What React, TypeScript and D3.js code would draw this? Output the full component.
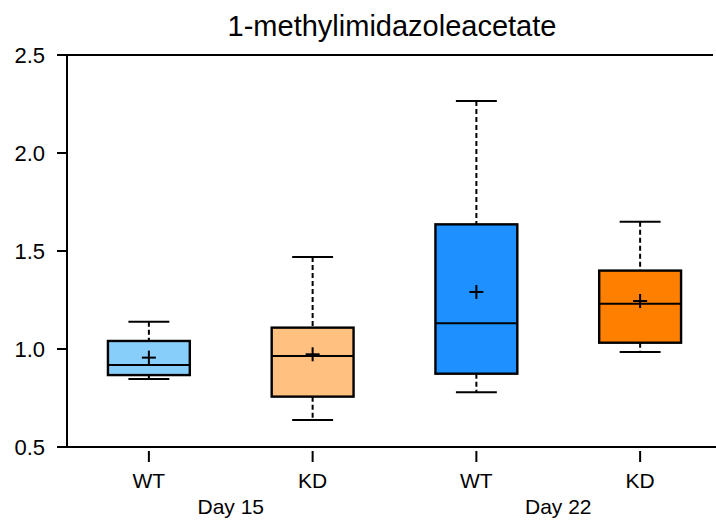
import { useEffect, useRef } from 'react';
import * as d3 from 'd3';

const groups = ['WT', 'KD', 'WT', 'KD'];
const days = ['Day 15', 'Day 22'];
const fills = ['#87CEFA', '#FFC080', '#1E90FF', '#FF8000'];
const whiskerLow = [0.847, 0.638, 0.779, 0.985];
const q1 = [0.867, 0.757, 0.874, 1.032];
const medians = [0.918, 0.964, 1.131, 1.231];
const q3 = [1.041, 1.109, 1.636, 1.4];
const whiskerHigh = [1.139, 1.469, 2.265, 1.649];
const means = [0.956, 0.973, 1.291, 1.245];
const yTicks = [0.5, 1.0, 1.5, 2.0, 2.5];

type Box = { i: number; low: number; q1: number; med: number; q3: number; high: number; mean: number };

export default function App() {
  const svgRef = useRef<SVGSVGElement>(null);

  useEffect(() => {
    if (!svgRef.current) return;
    const svg = d3.select(svgRef.current);
    svg.selectAll('*').remove();

    const width = 716, height = 522;
    const left = 67, right = 713, top = 55, bottom = 447;
    const font = 'Liberation Sans, Arial, sans-serif';

    const data: Box[] = groups.map((_, i) => ({
      i, low: whiskerLow[i], q1: q1[i], med: medians[i], q3: q3[i], high: whiskerHigh[i], mean: means[i]
    }));

    const x = d3.scaleBand<number>().domain(d3.range(groups.length)).range([left, 722]).padding(0);
    const y = d3.scaleLinear().domain([0.5, 2.5]).range([bottom, top]);
    const boxW = x.bandwidth() * 0.5;
    const cx = (i: number) => (x(i) as number) + x.bandwidth() / 2;

    svg.attr('width', width).attr('height', height);

    svg.append('text')
      .attr('x', 392).attr('y', 26)
      .attr('text-anchor', 'middle').attr('dominant-baseline', 'central')
      .style('font-family', font).style('font-size', '29px')
      .text('1-methylimidazoleacetate');

    // frame lines
    svg.append('line').attr('x1', left - 10).attr('x2', right).attr('y1', y(2.5)).attr('y2', y(2.5))
      .attr('stroke', '#000').attr('stroke-width', 2);
    svg.append('line').attr('x1', left - 10).attr('x2', width).attr('y1', y(0.5)).attr('y2', y(0.5))
      .attr('stroke', '#000').attr('stroke-width', 2);
    svg.append('line').attr('x1', left).attr('x2', left).attr('y1', y(2.5)).attr('y2', y(0.5))
      .attr('stroke', '#000').attr('stroke-width', 2);

    const yAxis = svg.append('g');
    yAxis.selectAll('line').data(yTicks).enter().append('line')
      .attr('x1', left - 10).attr('x2', left).attr('y1', d => y(d)).attr('y2', d => y(d))
      .attr('stroke', '#000').attr('stroke-width', 2);
    yAxis.selectAll('text').data(yTicks).enter().append('text')
      .attr('x', left - 22).attr('y', d => y(d))
      .attr('text-anchor', 'end').attr('dominant-baseline', 'central')
      .style('font-family', font).style('font-size', '22px')
      .text(d => d3.format('.1f')(d));

    const xAxis = svg.append('g');
    xAxis.selectAll('line').data(data).enter().append('line')
      .attr('x1', d => cx(d.i)).attr('x2', d => cx(d.i))
      .attr('y1', bottom + 4).attr('y2', bottom + 15)
      .attr('stroke', '#000').attr('stroke-width', 2);
    xAxis.selectAll('text.grp').data(data).enter().append('text')
      .attr('class', 'grp')
      .attr('x', d => cx(d.i)).attr('y', 480)
      .attr('text-anchor', 'middle').attr('dominant-baseline', 'central')
      .style('font-family', font).style('font-size', '21px')
      .text(d => groups[d.i]);
    xAxis.selectAll('text.day').data(days).enter().append('text')
      .attr('class', 'day')
      .attr('x', (_, k) => (cx(k * 2) + cx(k * 2 + 1)) / 2).attr('y', 506)
      .attr('text-anchor', 'middle').attr('dominant-baseline', 'central')
      .style('font-family', font).style('font-size', '21px')
      .text(d => d);

    const g = svg.append('g');
    const box = g.selectAll('g.box').data(data).enter().append('g').attr('class', 'box');

    // whiskers
    box.append('line')
      .attr('x1', d => cx(d.i)).attr('x2', d => cx(d.i))
      .attr('y1', d => y(d.high)).attr('y2', d => y(d.q3))
      .attr('stroke', '#000').attr('stroke-width', 2).attr('stroke-dasharray', '5,3');
    box.append('line')
      .attr('x1', d => cx(d.i)).attr('x2', d => cx(d.i))
      .attr('y1', d => y(d.q1)).attr('y2', d => y(d.low))
      .attr('stroke', '#000').attr('stroke-width', 2).attr('stroke-dasharray', '5,3');
    box.append('line')
      .attr('x1', d => cx(d.i) - boxW / 4).attr('x2', d => cx(d.i) + boxW / 4)
      .attr('y1', d => y(d.high)).attr('y2', d => y(d.high))
      .attr('stroke', '#000').attr('stroke-width', 2);
    box.append('line')
      .attr('x1', d => cx(d.i) - boxW / 4).attr('x2', d => cx(d.i) + boxW / 4)
      .attr('y1', d => y(d.low)).attr('y2', d => y(d.low))
      .attr('stroke', '#000').attr('stroke-width', 2);

    box.append('rect')
      .attr('x', d => cx(d.i) - boxW / 2).attr('width', boxW)
      .attr('y', d => y(d.q3)).attr('height', d => y(d.q1) - y(d.q3))
      .attr('fill', d => fills[d.i]).attr('stroke', '#000').attr('stroke-width', 2.4);
    box.append('line')
      .attr('x1', d => cx(d.i) - boxW / 2).attr('x2', d => cx(d.i) + boxW / 2)
      .attr('y1', d => y(d.med)).attr('y2', d => y(d.med))
      .attr('stroke', '#000').attr('stroke-width', 2);

    // mean marker
    box.append('line')
      .attr('x1', d => cx(d.i) - 7).attr('x2', d => cx(d.i) + 7)
      .attr('y1', d => y(d.mean)).attr('y2', d => y(d.mean))
      .attr('stroke', '#000').attr('stroke-width', 2);
    box.append('line')
      .attr('x1', d => cx(d.i)).attr('x2', d => cx(d.i))
      .attr('y1', d => y(d.mean) - 7).attr('y2', d => y(d.mean) + 7)
      .attr('stroke', '#000').attr('stroke-width', 2);
  }, []);

  return <svg ref={svgRef} style={{ position: 'absolute', left: 0, top: 0 }}></svg>;
}
